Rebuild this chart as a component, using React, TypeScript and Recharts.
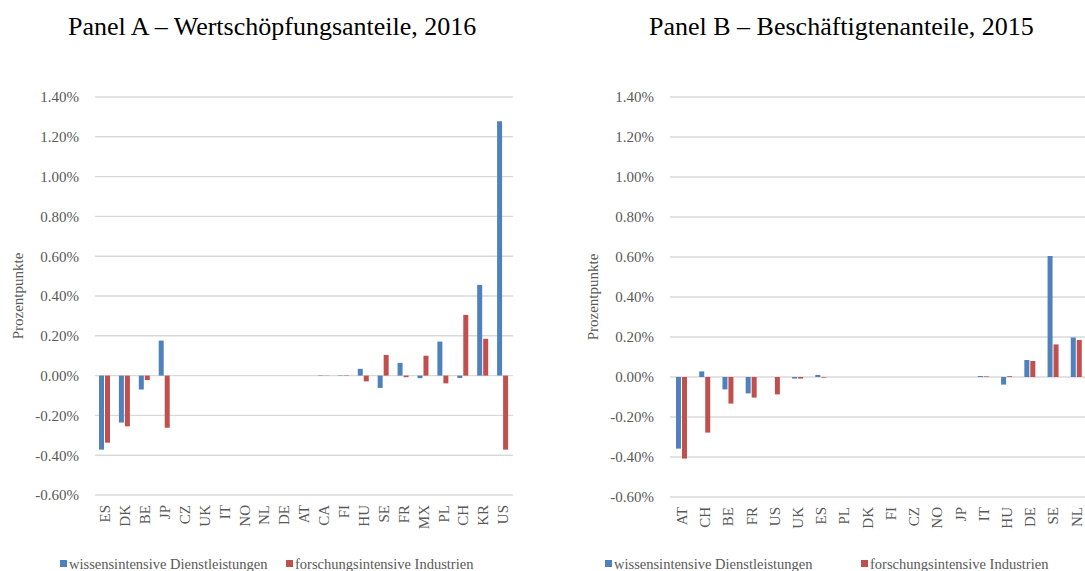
import { Bar, BarChart, CartesianGrid, XAxis, YAxis } from "recharts";

// Strukturwandel: Veränderung der Anteile in Prozentpunkten
const FONT = '"Liberation Serif", "Times New Roman", serif';
const BLUE = "#4F81BD";
const RED = "#C0504D";
const GRID = "#D9D9D9";
const TEXT = "#595959";

const SERIES_BLUE = "wissensintensive Dienstleistungen";
const SERIES_RED = "forschungsintensive Industrien";

// Panel A – Wertschöpfungsanteile, 2016
const countriesA = ["ES", "DK", "BE", "JP", "CZ", "UK", "IT", "NO", "NL", "DE", "AT", "CA", "FI", "HU", "SE", "FR", "MX", "PL", "CH", "KR", "US"];
const dienstA = [-0.372, -0.236, -0.07, 0.176, 0, 0, 0, 0, 0, 0, 0, 0.002, 0.002, 0.034, -0.062, 0.064, -0.013, 0.171, -0.012, 0.456, 1.278];
const forschA = [-0.337, -0.255, -0.022, -0.262, 0, 0, 0, 0, 0, 0, 0, 0.001, 0.002, -0.029, 0.104, -0.008, 0.1, -0.039, 0.305, 0.185, -0.372];

// Panel B – Beschäftigtenanteile, 2015
const countriesB = ["AT", "CH", "BE", "FR", "US", "UK", "ES", "PL", "DK", "FI", "CZ", "NO", "JP", "IT", "HU", "DE", "SE", "NL"];
const dienstB = [-0.358, 0.028, -0.062, -0.082, 0, -0.008, 0.01, 0, 0, 0, 0, 0, 0, 0.005, -0.038, 0.085, 0.605, 0.197];
const forschB = [-0.408, -0.278, -0.133, -0.103, -0.087, -0.008, -0.003, 0, 0, 0, 0, 0, 0, 0.003, 0.004, 0.08, 0.163, 0.185];

const yTicks = [-0.6, -0.4, -0.2, 0, 0.2, 0.4, 0.6, 0.8, 1.0, 1.2, 1.4];

function CountryTick({ x, y, payload }: any) {
  return (
    <g transform={`translate(${x},${y})`}>
      <text transform="rotate(-90)" textAnchor="end" dy="0.35em" fill={TEXT} fontSize={15} fontFamily={FONT}>
        {payload.value}
      </text>
    </g>
  );
}

function AxisTitle({ viewBox, dx }: any) {
  const cx = viewBox.x + dx;
  const cy = viewBox.y + viewBox.height / 2;
  return (
    <text
      x={cx}
      y={cy}
      transform={`rotate(-90 ${cx} ${cy})`}
      textAnchor="middle"
      dominantBaseline="central"
      fill={TEXT}
      fontSize={15}
      fontFamily={FONT}
    >
      Prozentpunkte
    </text>
  );
}

interface PanelProps {
  categories: string[];
  blue: number[];
  red: number[];
  left: number;
  axisWidth: number;
  labelDx: number;
  right: number;
  xAxisHeight: number;
}

function Panel({ categories, blue, red, left, axisWidth, labelDx, right, xAxisHeight }: PanelProps) {
  const data = categories.map((land, i) => ({ land, dienst: blue[i], forsch: red[i] }));
  return (
    <div style={{ position: "absolute", left, top: 0 }}>
      <BarChart
        width={540}
        height={571}
        data={data}
        margin={{ top: 97, right, bottom: 0, left: 0 }}
        barSize={5}
        barGap={1}
      >
        <CartesianGrid vertical={false} stroke={GRID} strokeWidth={1.4} />
        <XAxis
          dataKey="land"
          interval={0}
          height={xAxisHeight}
          axisLine={false}
          tickLine={false}
          tickSize={0}
          tickMargin={10}
          tick={<CountryTick />}
        />
        <YAxis
          width={axisWidth}
          domain={[-0.6, 1.4]}
          ticks={yTicks}
          axisLine={false}
          tickLine={false}
          tickSize={0}
          tickMargin={16}
          tickFormatter={(v: number) => `${v.toFixed(2)}%`}
          tick={{ fill: TEXT, fontSize: 15, fontFamily: FONT }}
          label={<AxisTitle dx={labelDx} />}
        />
        <Bar dataKey="dienst" name={SERIES_BLUE} fill={BLUE} isAnimationActive={false} />
        <Bar dataKey="forsch" name={SERIES_RED} fill={RED} isAnimationActive={false} />
      </BarChart>
    </div>
  );
}

function LegendItem({ x, color, text }: { x: number; color: string; text: string }) {
  return (
    <g>
      <rect x={x} y={560} width={7} height={7} fill={color} />
      <text x={x + 9} y={569} fill={TEXT} fontSize={14.5} fontFamily={FONT}>
        {text}
      </text>
    </g>
  );
}

export default function App() {
  return (
    <div
      style={{
        position: "absolute",
        left: 0,
        top: 0,
        width: 1085,
        height: 571,
        overflow: "hidden",
        background: "#fff",
        fontFamily: FONT,
      }}
    >
      <Panel categories={countriesA} blue={dienstA} red={forschA} left={0} axisWidth={95} labelDx={18} right={27} xAxisHeight={76} />
      <Panel categories={countriesB} blue={dienstB} red={forschB} left={560} axisWidth={110} labelDx={33} right={12} xAxisHeight={74} />
      <svg width={1085} height={571} style={{ position: "absolute", left: 0, top: 0, pointerEvents: "none" }}>
        <text x={68} y={35} fontSize={26} fontFamily={FONT} fill="#000">
          Panel A – Wertschöpfungsanteile, 2016
        </text>
        <text x={649} y={35} fontSize={26} fontFamily={FONT} fill="#000">
          Panel B – Beschäftigtenanteile, 2015
        </text>
        <LegendItem x={60} color={BLUE} text={SERIES_BLUE} />
        <LegendItem x={286} color={RED} text={SERIES_RED} />
        <LegendItem x={605} color={BLUE} text={SERIES_BLUE} />
        <LegendItem x={861} color={RED} text={SERIES_RED} />
      </svg>
    </div>
  );
}
